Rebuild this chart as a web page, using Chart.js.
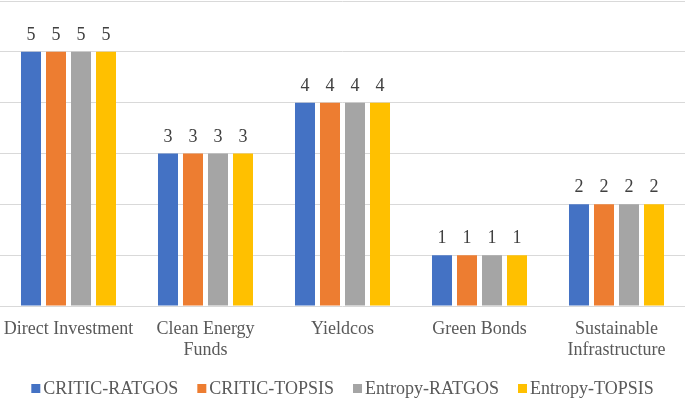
<!DOCTYPE html>
<html>
<head>
<meta charset="utf-8">
<script src="https://cdn.jsdelivr.net/npm/chart.js@4/dist/chart.umd.min.js"></script>
<style>
html,body{margin:0;padding:0;background:#fff;}
#wrap{width:685px;height:398px;}
</style>
</head>
<body>
<div id="wrap"><canvas id="c"></canvas></div>
<script>
const categories = [["Direct Investment"], ["Clean Energy", "Funds"], ["Yieldcos"], ["Green Bonds"], ["Sustainable", "Infrastructure"]];
const seriesNames = ["CRITIC-RATGOS", "CRITIC-TOPSIS", "Entropy-RATGOS", "Entropy-TOPSIS"];
const criticRatgos = [5, 3, 4, 1, 2];
const criticTopsis = [5, 3, 4, 1, 2];
const entropyRatgos = [5, 3, 4, 1, 2];
const entropyTopsis = [5, 3, 4, 1, 2];
const seriesColors = ["#4472c4", "#ed7d31", "#a5a5a5", "#ffc000"];
const FONT = '"Liberation Serif", "Times New Roman", serif';

const valueLabels = {
  id: 'valueLabels',
  afterDatasetsDraw(chart) {
    const ctx = chart.ctx;
    ctx.save();
    ctx.font = '18px ' + FONT;
    ctx.fillStyle = '#404040';
    ctx.textAlign = 'center';
    ctx.textBaseline = 'alphabetic';
    chart.data.datasets.forEach((ds, i) => {
      const meta = chart.getDatasetMeta(i);
      meta.data.forEach((bar, j) => {
        ctx.fillText(String(ds.data[j]), bar.x, bar.y - 12);
      });
    });
    ctx.restore();
  }
};

const customLegend = {
  id: 'customLegend',
  afterDraw(chart) {
    const ctx = chart.ctx;
    ctx.save();
    ctx.font = '18px ' + FONT;
    ctx.textBaseline = 'alphabetic';
    ctx.textAlign = 'left';
    const box = 9, gapBox = 3, gapItem = 19;
    const items = chart.data.datasets.map(ds => ({
      label: ds.label, color: ds.backgroundColor, w: ctx.measureText(ds.label).width
    }));
    let total = 0;
    items.forEach((it, i) => { total += box + gapBox + it.w + (i < items.length - 1 ? gapItem : 0); });
    let x = (chart.width - total) / 2;
    const baseline = 394;
    items.forEach(it => {
      ctx.fillStyle = it.color;
      ctx.fillRect(x, 384, box, box);
      ctx.fillStyle = '#595959';
      ctx.fillText(it.label, x + box + gapBox, baseline);
      x += box + gapBox + it.w + gapItem;
    });
    ctx.restore();
  }
};

const allSeries = [criticRatgos, criticTopsis, entropyRatgos, entropyTopsis];
new Chart(document.getElementById('c'), {
  type: 'bar',
  data: {
    labels: categories,
    datasets: allSeries.map((d, i) => ({
      label: seriesNames[i],
      data: d,
      backgroundColor: seriesColors[i],
      borderWidth: 0,
      barPercentage: 0.8,
      categoryPercentage: 0.73
    }))
  },
  options: {
    responsive: true,
    maintainAspectRatio: false,
    animation: false,
    layout: { padding: { top: 1, left: 0, right: 0, bottom: 32 } },
    plugins: {
      legend: { display: false },
      tooltip: { enabled: false }
    },
    scales: {
      x: {
        grid: { display: false, drawTicks: false },
        border: { display: false },
        afterFit(scale) { scale.height = 60; scale.paddingLeft = 0; scale.paddingRight = 0; },
        ticks: {
          color: '#595959',
          padding: 13,
          maxRotation: 0,
          autoSkip: false,
          font: { family: FONT, size: 18, lineHeight: 1.17 }
        }
      },
      y: {
        min: 0,
        max: 6,
        afterFit(scale) { scale.width = 0; },
        ticks: { display: false, stepSize: 1 },
        border: { display: false },
        grid: { color: '#d9d9d9', lineWidth: 1, drawTicks: false }
      }
    }
  },
  plugins: [valueLabels, customLegend]
});
</script>
</body>
</html>
